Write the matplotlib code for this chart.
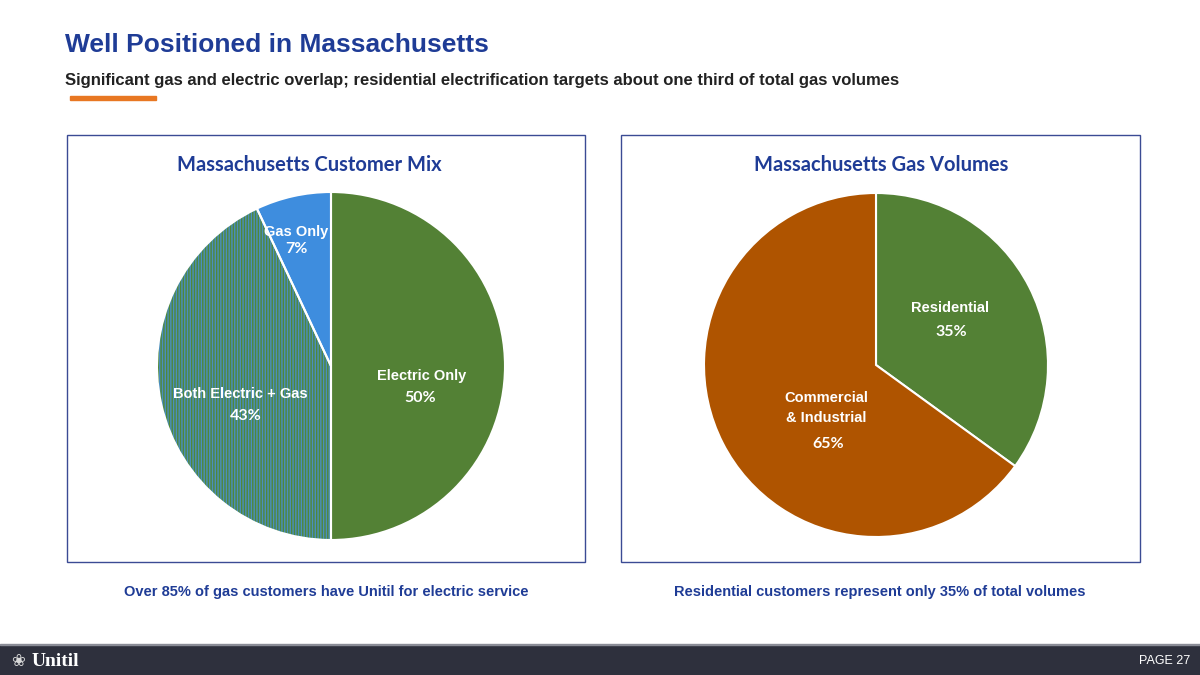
import matplotlib.pyplot as plt
from matplotlib.patches import Rectangle

# --- data ---
mix_labels = ['Electric Only', 'Both Electric + Gas', 'Gas Only']
mix_values = [50, 43, 7]
vol_labels = ['Residential', 'Commercial\n& Industrial']
vol_values = [35, 65]

ARIAL = ['Liberation Sans', 'DejaVu Sans']
CAL = ['Lato', 'DejaVu Sans']
NAVY = '#1F3C96'
GREEN = '#538135'
BLUE = '#3E8DDE'
STRIPE_BG = '#4F873A'
STRIPE_FG = '#4A8EBE'
ORANGE = '#AF5400'

plt.rcParams['hatch.linewidth'] = 1.0

W, H = 1200, 675
fig = plt.figure(figsize=(12, 6.75), dpi=100)


def fx(x):
    return x / W


def fy(y):
    return 1 - y / H


# --- header ---
fig.text(fx(65), fy(45), 'Well Positioned in Massachusetts', family=ARIAL,
         weight='bold', fontsize=19, color=NAVY, va='center', ha='left')
fig.text(fx(65), fy(80), 'Significant gas and electric overlap; residential electrification '
         'targets about one third of total gas volumes', family=ARIAL, weight='bold',
         fontsize=12, color='#222222', va='center', ha='left')
fig.add_artist(Rectangle((fx(70), fy(99.5)), fx(86), 3 / H, color='#E87722',
                         transform=fig.transFigure))

# --- panel frames ---
for x0, x1 in [(67, 585), (621, 1140)]:
    fig.add_artist(Rectangle((fx(x0), fy(562)), fx(x1 - x0), (562 - 135) / H,
                             fill=False, edgecolor='#3B4B94', linewidth=1.0,
                             transform=fig.transFigure))

fig.text(fx(309), fy(165), 'Massachusetts Customer Mix', family=CAL, weight='bold',
         fontsize=14.5, color=NAVY, ha='center', va='center')
fig.text(fx(881), fy(165), 'Massachusetts Gas Volumes', family=CAL, weight='bold',
         fontsize=14.5, color=NAVY, ha='center', va='center')


def pie_axes(cx, cy, r):
    ax = fig.add_axes([fx(cx - r), fy(cy + r), fx(2 * r), 2 * r / H])
    ax.axis('off')
    return ax


def fix_limits(ax):
    ax.set_xlim(-1, 1)
    ax.set_ylim(-1, 1)
    ax.set_aspect('equal')


# --- left pie: customer mix ---
ax1 = pie_axes(331, 366, 174)
wedges, _ = ax1.pie(mix_values, colors=[GREEN, STRIPE_BG, BLUE], startangle=90,
                    counterclock=False, radius=1,
                    wedgeprops=dict(linewidth=0))
# striped "both" slice
wedges[1].set_hatch('||||||')
wedges[1].set_edgecolor(STRIPE_FG)
wedges[1].set_linewidth(0)
# white separators on top
ax1.pie(mix_values, colors=['none'] * 3, startangle=90, counterclock=False, radius=1,
        wedgeprops=dict(linewidth=1.5, edgecolor='white', fill=False))
fix_limits(ax1)

lbl = dict(family=ARIAL, weight='bold', fontsize=10.5, color='white', ha='center', va='center')
pct = dict(family=CAL, weight='bold', fontsize=11.5, color='white', ha='center', va='center')
ax1.text(-0.20, 0.77, mix_labels[2], **lbl)
ax1.text(-0.20, 0.67, f'{mix_values[2]}%', **pct)
ax1.text(0.52, -0.06, mix_labels[0], **lbl)
ax1.text(0.51, -0.185, f'{mix_values[0]}%', **pct)
ax1.text(-0.52, -0.16, mix_labels[1], **lbl)
ax1.text(-0.49, -0.29, f'{mix_values[1]}%', **pct)

# --- right pie: gas volumes ---
ax2 = pie_axes(876, 365, 172)
ax2.pie(vol_values, colors=[GREEN, ORANGE], startangle=90, counterclock=False, radius=1,
        wedgeprops=dict(linewidth=1.5, edgecolor='white'))
fix_limits(ax2)
ax2.text(0.43, 0.33, vol_labels[0], **lbl)
ax2.text(0.44, 0.19, f'{vol_values[0]}%', **pct)
ax2.text(-0.29, -0.25, vol_labels[1], linespacing=1.55, **lbl)
ax2.text(-0.28, -0.46, f'{vol_values[1]}%', **pct)

# --- captions ---
cap = dict(family=ARIAL, weight='bold', fontsize=10.5, color=NAVY, ha='center', va='center')
fig.text(fx(326), fy(592), 'Over 85% of gas customers have Unitil for electric service', **cap)
fig.text(fx(880), fy(592), 'Residential customers represent only 35% of total volumes', **cap)

# --- footer ---
fig.add_artist(Rectangle((0, 0), 1, 30 / H, color='#2E303D', transform=fig.transFigure))
fig.add_artist(Rectangle((0, 30 / H), 1, 1 / H, color='#8A8C96', transform=fig.transFigure))
fig.text(fx(11), fy(661), '\u2740', family=['DejaVu Sans'], fontsize=12, color='#D8D8D8',
         ha='left', va='center')
fig.text(fx(32), fy(661), 'Unitil', family=['Liberation Serif', 'DejaVu Serif'],
         weight='bold', fontsize=14, color='white', ha='left', va='center')
fig.text(fx(1190), fy(661), 'PAGE 27', family=ARIAL, fontsize=9, color='white',
         ha='right', va='center')

fig.savefig('out.png', dpi=100)
